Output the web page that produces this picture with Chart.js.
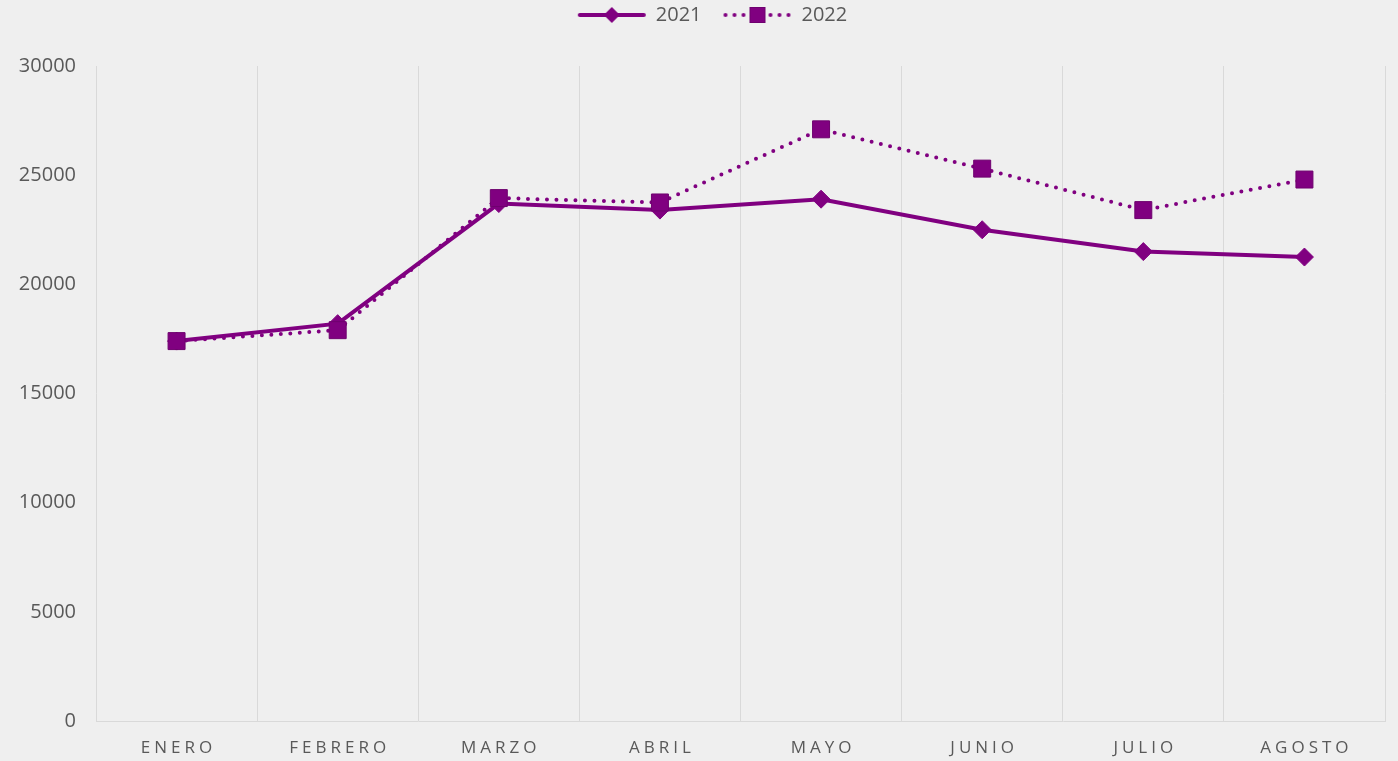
<!DOCTYPE html>
<html>
<head>
<meta charset="utf-8">
<script src="https://cdn.jsdelivr.net/npm/chart.js@4"></script>
<style>
  html, body { margin: 0; padding: 0; background: #efefef; }
  #wrap { width: 1398px; height: 761px; position: relative; }
  canvas { display: block; }
</style>
</head>
<body>
<div id="wrap"><canvas id="c" width="1398" height="761"></canvas></div>
<script>
const categories = ['ENERO', 'FEBRERO', 'MARZO', 'ABRIL', 'MAYO', 'JUNIO', 'JULIO', 'AGOSTO'];
const series2021 = [17400, 18200, 23700, 23400, 23900, 22500, 21500, 21250];
const series2022 = [17400, 17900, 23950, 23750, 27100, 25300, 23400, 24800];
const seriesNames = ['2021', '2022'];
const yTicks = [0, 5000, 10000, 15000, 20000, 25000, 30000];

const PURPLE = '#800080';
const PURPLE_DARK = '#6e006e';
const TEXT = '#595959';
const GRID = '#d9d9d9';

function legendIcon(kind) {
  const c = document.createElement('canvas');
  c.width = 70; c.height = 20;
  const g = c.getContext('2d');
  g.strokeStyle = PURPLE;
  g.fillStyle = PURPLE;
  g.lineWidth = 4;
  g.lineCap = 'round';
  if (kind === 'solid') {
    g.beginPath(); g.moveTo(3, 10); g.lineTo(67, 10); g.stroke();
    g.beginPath(); g.moveTo(35, 2); g.lineTo(43, 10); g.lineTo(35, 18); g.lineTo(27, 10); g.closePath(); g.fill();
  } else {
    g.setLineDash([0, 9]);
    g.beginPath(); g.moveTo(3, 10); g.lineTo(67, 10); g.stroke();
    g.setLineDash([]);
    g.fillRect(27, 2, 16, 16);
    g.strokeStyle = PURPLE_DARK; g.lineWidth = 1;
    g.strokeRect(27.5, 2.5, 15, 15);
  }
  return c;
}
const icons = [legendIcon('solid'), legendIcon('dotted')];

const layoutPatchPlugin = {
  id: 'layoutPatch',
  beforeUpdate(chart) {
    const lg = chart.legend;
    if (lg && !lg._patched) {
      const origFit = lg.fit.bind(lg);
      lg.fit = function () { origFit(); this.height += 14; };
      const origDraw = lg.draw.bind(lg);
      lg.draw = function () {
        const ctx = this.ctx;
        ctx.save(); ctx.translate(16, -17); origDraw(); ctx.restore();
      };
      lg._patched = true;
    }
  },
  beforeDraw(chart) {
    const s = chart.scales.x;
    if (s && !s._lsPatched) {
      const orig = s.drawLabels.bind(s);
      s.drawLabels = function (area) {
        const ctx = this.ctx;
        ctx.save();
        ctx.letterSpacing = '4px';
        ctx.translate(2, 0);
        orig(area);
        ctx.restore();
      };
      s._lsPatched = true;
    }
  }
};

new Chart(document.getElementById('c'), {
  type: 'line',
  data: {
    labels: categories,
    datasets: [
      {
        label: seriesNames[0],
        data: series2021,
        borderColor: PURPLE,
        backgroundColor: PURPLE,
        borderWidth: 4,
        pointStyle: 'rectRot',
        pointRadius: 9,
        pointHoverRadius: 9,
        pointBackgroundColor: PURPLE,
        pointBorderColor: PURPLE,
        pointBorderWidth: 1,
        tension: 0,
        order: 1
      },
      {
        label: seriesNames[1],
        data: series2022,
        borderColor: PURPLE,
        backgroundColor: PURPLE,
        borderWidth: 4,
        borderDash: [0, 9.5],
        borderCapStyle: 'round',
        pointStyle: 'rect',
        pointRadius: 12,
        pointHoverRadius: 12,
        pointBackgroundColor: PURPLE,
        pointBorderColor: PURPLE_DARK,
        pointBorderWidth: 1,
        tension: 0,
        order: 0
      }
    ]
  },
  options: {
    responsive: false,
    animation: false,
    events: [],
    layout: { padding: { left: 0, right: 5, top: 0, bottom: 0 } },
    plugins: {
      tooltip: { enabled: false },
      legend: {
        position: 'top',
        align: 'center',
        labels: {
          usePointStyle: true,
          pointStyleWidth: 68,
          color: TEXT,
          font: { family: 'Open Sans', size: 20 },
          padding: 22,
          generateLabels(chart) {
            return chart.data.datasets.map((ds, i) => ({
              text: ds.label,
              pointStyle: icons[i],
              fillStyle: PURPLE,
              strokeStyle: PURPLE,
              lineWidth: 0,
              fontColor: TEXT,
              hidden: false,
              datasetIndex: i
            }));
          }
        }
      }
    },
    scales: {
      x: {
        offset: true,
        grid: { display: true, offset: true, color: GRID, lineWidth: 1, drawTicks: false },
        border: { display: true, color: GRID, width: 1 },
        ticks: { color: TEXT, font: { family: 'Open Sans', size: 17 }, padding: 17, maxRotation: 0 },
        afterFit(scale) { scale.height = 40; }
      },
      y: {
        min: 0,
        max: 30000,
        afterBuildTicks(scale) { scale.ticks = yTicks.map(v => ({ value: v })); },
        grid: { display: false, drawTicks: false },
        border: { display: false },
        ticks: {
          color: TEXT,
          font: { family: 'Open Sans', size: 20 },
          padding: 20,
          callback: (v) => String(v)
        },
        afterFit(scale) { scale.width = 96; }
      }
    }
  },
  plugins: [layoutPatchPlugin]
});
</script>
</body>
</html>
